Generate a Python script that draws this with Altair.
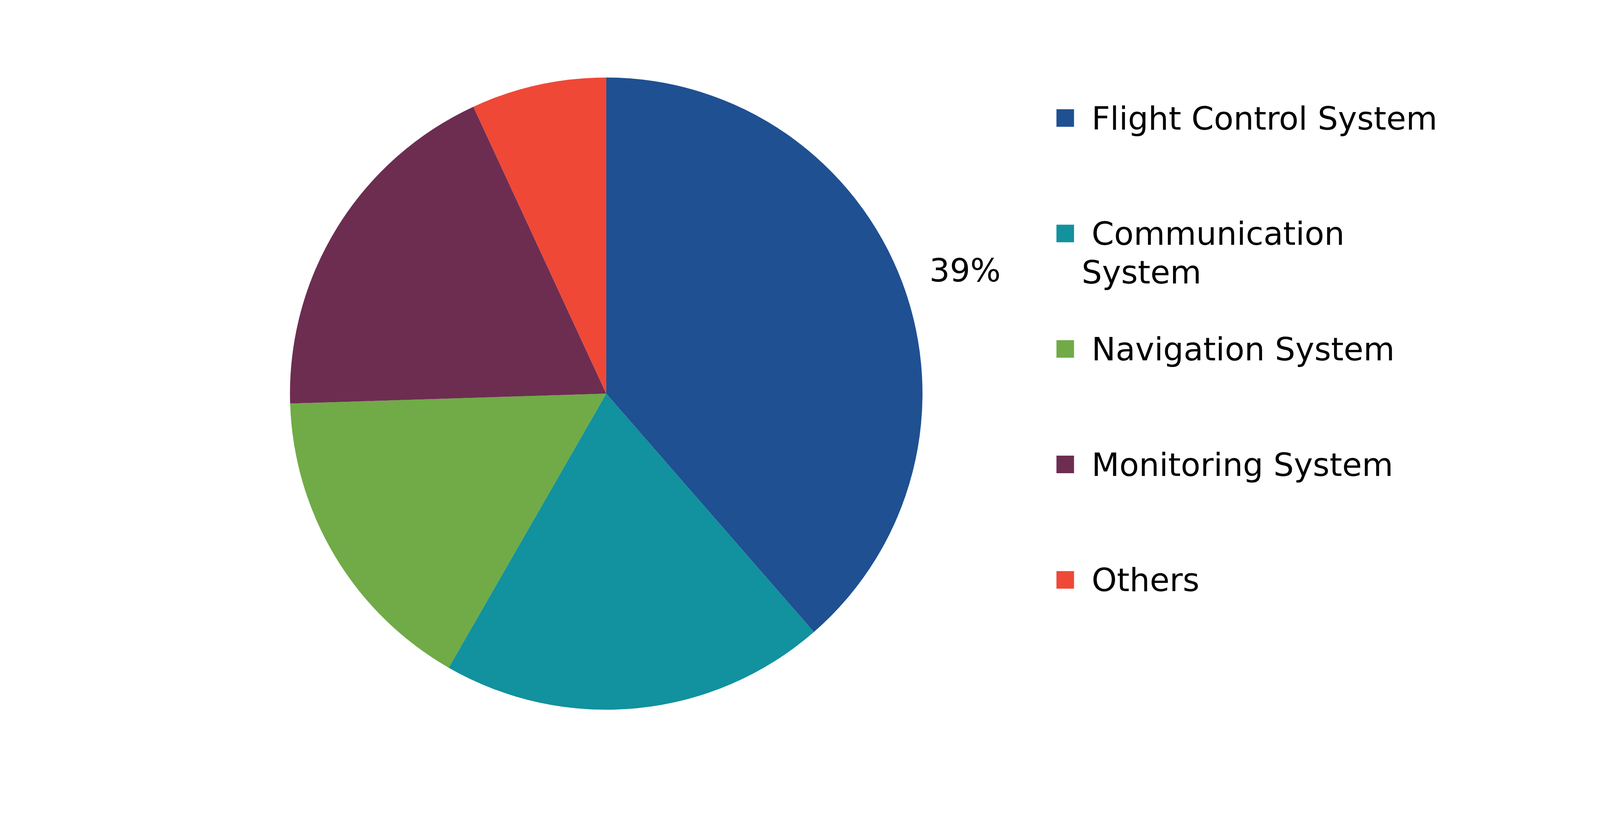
import altair as alt
import pandas as pd

categories = ["Flight Control System", "Communication System", "Navigation System",
              "Monitoring System", "Others"]
shares = [38.6, 19.7, 16.2, 18.6, 6.9]
slice_labels = ["39%", "", "", "", ""]
legend_line1 = ["Flight Control System", "Communication", "Navigation System",
                "Monitoring System", "Others"]
legend_line2 = ["", "System", "", "", ""]
colors = ["#1F5092", "#12919E", "#70AB47", "#6D2D51", "#EF4837"]

df = pd.DataFrame({
    "category": categories,
    "share": shares,
    "label": slice_labels,
    "line1": legend_line1,
    "line2": legend_line2,
    "idx": list(range(len(categories))),
})

FONT = "DejaVu Sans"
CX, CY, R = 1578, 999.5, 827.5

color = alt.Color("category:N", scale=alt.Scale(domain=categories, range=colors), legend=None)
theta = alt.Theta("share:Q", stack=True)
order = alt.Order("idx:Q")

base = alt.Chart(df)

pie = base.mark_arc(strokeWidth=0).encode(
    theta=theta, color=color, order=order,
    radius=alt.value(R), x=alt.value(CX), y=alt.value(CY),
)

pct = base.mark_text(font=FONT, fontSize=84, color="#000000", align="center",
                     baseline="middle", dx=8, dy=30).encode(
    theta=theta, order=order, text="label:N",
    radius=alt.value(994), x=alt.value(CX), y=alt.value(CY),
)

ypos = alt.Y("category:N", sort=categories, axis=None,
             scale=alt.Scale(type="point", range=[278, 1487], padding=0))

squares = base.mark_square(size=46 * 46, opacity=1, filled=True).encode(
    x=alt.value(2779), y=ypos, color=color,
)

texts1 = base.mark_text(font=FONT, fontSize=84, color="#000000", align="left",
                        baseline="alphabetic", dy=30).encode(
    x=alt.value(2848), y=ypos, text="line1:N",
)

texts2 = base.mark_text(font=FONT, fontSize=84, color="#000000", align="left",
                        baseline="alphabetic", dy=131).encode(
    x=alt.value(2822), y=ypos, text="line2:N",
)

chart = alt.layer(pie, pct, squares, texts1, texts2).properties(
    width=4170, height=2060, padding=0, autosize="none",
    background="#ffffff",
).configure_view(stroke=None)

chart.save("out.html", embed_options={"renderer": "svg", "actions": False})
